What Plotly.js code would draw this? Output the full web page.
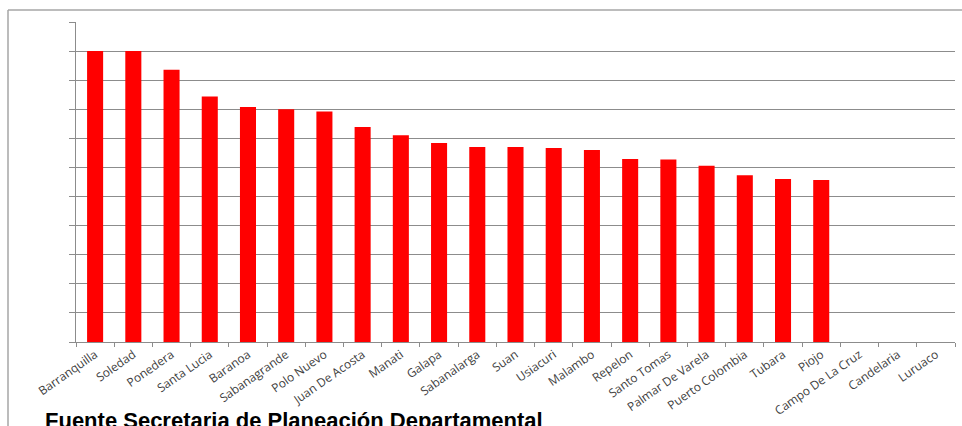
<!DOCTYPE html>
<html>
<head>
<meta charset="utf-8">
<script src="https://cdn.plot.ly/plotly-3.0.1.min.js"></script>
<style>html,body{margin:0;padding:0;background:#fff;}#chart{width:962px;height:426px;}</style>
</head>
<body>
<div id="chart"></div>
<script>
const municipios = ["Barranquilla","Soledad","Ponedera","Santa Lucia","Baranoa","Sabanagrande","Polo Nuevo","Juan De Acosta","Manati","Galapa","Sabanalarga","Suan","Usiacuri","Malambo","Repelon","Santo Tomas","Palmar De Varela","Puerto Colombia","Tubara","Piojo","Campo De La Cruz","Candelaria","Luruaco"];
const valores = [10.0,10.0,9.36,8.44,8.08,8.0,7.92,7.39,7.11,6.84,6.70,6.70,6.67,6.60,6.29,6.27,6.06,5.73,5.60,5.57,null,null,null];
const fuente = "Fuente Secretaria de Planeación Departamental";

const W = 962, H = 426;
const m = {l:76, r:7, t:22, b:84};
const pw = W - m.l - m.r, ph = H - m.t - m.b;
const px = x => (x - m.l) / pw;
const py = y => (H - m.b - y) / ph;

const trace = {
  type: "bar",
  x: municipios,
  y: valores,
  marker: {color: "#ff0000"},
  hoverinfo: "x+y"
};

const layout = {
  width: W, height: H,
  margin: m,
  paper_bgcolor: "#ffffff",
  plot_bgcolor: "#ffffff",
  bargap: 0.58,
  showlegend: false,
  xaxis: {
    type: "category",
    range: [-0.5, municipios.length - 0.5],
    tickangle: -35,
    tickson: "boundaries",
    ticks: "outside",
    ticklen: 4,
    tickcolor: "#8c8c8c",
    showline: true,
    linecolor: "#8c8c8c",
    linewidth: 1,
    showgrid: false,
    tickfont: {family: "Open Sans, sans-serif", size: 12, color: "#404040"}
  },
  yaxis: {
    range: [0, 11],
    dtick: 1,
    showticklabels: false,
    ticks: "outside",
    ticklen: 6,
    tickcolor: "#8c8c8c",
    showline: true,
    linecolor: "#8c8c8c",
    linewidth: 1,
    showgrid: true,
    gridcolor: "#8c8c8c",
    gridwidth: 1,
    zeroline: false
  },
  shapes: [
    {type: "line", xref: "paper", yref: "paper", x0: px(8), x1: px(8), y0: py(10), y1: py(440), line: {color: "#a6a6a6", width: 1.5}},
    {type: "line", xref: "paper", yref: "paper", x0: px(8), x1: px(975), y0: py(10), y1: py(10), line: {color: "#a6a6a6", width: 1.5}}
  ],
  annotations: [
    {text: "<b>" + fuente + "</b>", xref: "paper", yref: "paper", x: px(43), y: py(406), xanchor: "left", yanchor: "top", showarrow: false,
     font: {family: "Liberation Sans, Arial, sans-serif", size: 22, color: "#000000"}}
  ]
};

Plotly.newPlot("chart", [trace], layout, {displayModeBar: false, staticPlot: true});
</script>
</body>
</html>
